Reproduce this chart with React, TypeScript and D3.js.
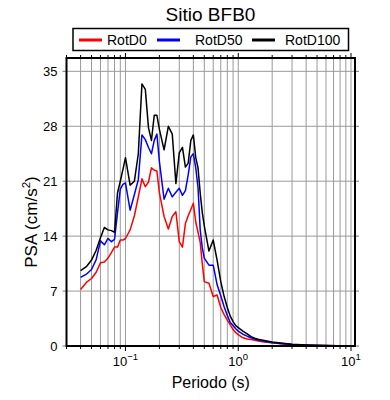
import * as d3 from "d3";
import React, { useRef, useEffect } from "react";

// periods (s)
const periods = [
  0.04, 0.045, 0.05, 0.055, 0.06, 0.065, 0.07, 0.075, 0.08, 0.085, 0.09, 0.095,
  0.1, 0.11, 0.12, 0.13, 0.14, 0.15, 0.16, 0.17, 0.18, 0.19, 0.2, 0.22, 0.24,
  0.26, 0.28, 0.3, 0.32, 0.34, 0.36, 0.38, 0.4, 0.42, 0.44, 0.46, 0.48, 0.5,
  0.55, 0.6, 0.65, 0.7, 0.75, 0.8, 0.85, 0.9, 0.95, 1.0, 1.1, 1.2, 1.3, 1.4,
  1.5, 1.7, 2.0, 2.5, 3.0, 4.0, 5.0, 7.5, 10,
];

const rotD0 = [
  7.2, 8.1, 8.6, 9.4, 10.6, 10.7, 11.2, 11.9, 12.6, 12.6, 13.5, 13.5,
  13.7, 14.8, 16.6, 19.0, 21.3, 20.3, 20.9, 22.7, 22.4, 22.3, 19.5, 16.5, 14.9,
  16.5, 17.1, 13.3, 12.6, 15.6, 16.6, 17.4, 18.2, 15.8, 14.5, 13.2, 10.5, 8.2,
  8.0, 6.3, 6.5, 4.9, 4.0, 3.3, 2.7, 2.1, 1.7, 1.45, 1.05, 0.9, 0.82, 0.72,
  0.65, 0.52, 0.4, 0.25, 0.16, 0.09, 0.05, 0.03, 0.02,
];

const rotD50 = [
  8.75, 9.15, 9.75, 11.0, 13.4, 12.9, 13.7, 13.3, 13.6, 17.0, 20.0, 20.6,
  20.8, 17.3, 19.3, 21.2, 26.9, 26.3, 25.3, 24.5, 26.2, 27.0, 23.5, 18.7, 20.1,
  19.0, 19.6, 20.1, 19.2, 19.8, 21.8, 24.1, 24.5, 22.7, 20.2, 14.8, 12.5, 11.2,
  10.3, 10.3, 7.8, 6.4, 5.0, 3.9, 3.0, 2.6, 2.2, 1.9, 1.5, 1.25, 1.05, 0.88,
  0.75, 0.6, 0.42, 0.28, 0.18, 0.1, 0.06, 0.03, 0.02,
];

const rotD100 = [
  9.6, 10.1, 10.95, 12.2, 13.8, 15.1, 14.8, 14.7, 14.5, 19.5, 21.0, 22.5,
  24.0, 20.5, 21.0, 24.5, 33.4, 32.7, 27.8, 26.2, 29.4, 29.4, 27.6, 25.0, 28.0,
  27.0, 20.7, 24.6, 25.3, 22.8, 23.3, 26.2, 26.9, 24.0, 22.7, 19.5, 17.0, 15.3,
  12.1, 13.5, 10.9, 8.2, 6.3, 4.9, 3.8, 3.1, 2.6, 2.35, 1.9, 1.55, 1.2, 1.0,
  0.85, 0.7, 0.5, 0.35, 0.22, 0.13, 0.08, 0.04, 0.02,
];

const seriesNames = ["RotD0", "RotD50", "RotD100"];
const seriesColors = ["#ff0000", "#0000ff", "#000000"];
const yTicks = [0, 7, 14, 21, 28, 35];
const xMajor = [0.1, 1, 10];
const xMajorExp = ["\u22121", "0", "1"];

const width = 390;
const height = 400;
const font = "'Liberation Sans', Arial, Helvetica, sans-serif";

function App() {
  const ref = useRef(null);

  useEffect(() => {
    draw();
  }, []);

  const draw = () => {
    const svg = d3.select(ref.current);
    svg.selectAll("*").remove();

    const left = 66.5;
    const right = 355;
    const top = 58;
    const bottom = 346;

    const x = d3.scaleLog().domain([0.03, 10.85]).range([left, right]);
    const y = d3.scaleLinear().domain([0, 36.7]).range([bottom, top]);

    svg.append("rect").attr("width", width).attr("height", height).attr("fill", "#fff");

    // grid
    const minor = x.ticks();
    const grid = svg.append("g").attr("stroke", "#9a9a9a").attr("stroke-width", 1);
    minor.forEach((t) => {
      grid.append("line")
        .attr("x1", x(t)).attr("x2", x(t))
        .attr("y1", top).attr("y2", bottom);
    });
    yTicks.forEach((t) => {
      grid.append("line")
        .attr("x1", left).attr("x2", right)
        .attr("y1", y(t)).attr("y2", y(t));
    });

    // tick marks
    const ticks = svg.append("g").attr("stroke", "#000").attr("stroke-width", 1);
    minor.forEach((t) => {
      const len = xMajor.some((m) => Math.abs(m - t) < 1e-9) ? 5 : 3;
      ticks.append("line")
        .attr("x1", x(t)).attr("x2", x(t))
        .attr("y1", top).attr("y2", top - len);
      ticks.append("line")
        .attr("x1", x(t)).attr("x2", x(t))
        .attr("y1", bottom).attr("y2", bottom + len);
    });
    yTicks.forEach((t) => {
      ticks.append("line")
        .attr("x1", left - 4).attr("x2", left)
        .attr("y1", y(t)).attr("y2", y(t))
        .attr("stroke", "#777");
      ticks.append("line")
        .attr("x1", right).attr("x2", right + 4)
        .attr("y1", y(t)).attr("y2", y(t))
        .attr("stroke", "#777");
    });

    // curves
    const line = d3
      .line<number>()
      .x((d, i) => x(periods[i]))
      .y((d) => y(d));

    [rotD0, rotD50, rotD100].forEach((vals, k) => {
      svg.append("path")
        .datum(vals)
        .attr("d", line)
        .attr("fill", "none")
        .attr("stroke", seriesColors[k])
        .attr("stroke-width", 1.5)
        .attr("stroke-linejoin", "round");
    });

    // frame
    svg.append("rect")
      .attr("x", left).attr("y", top)
      .attr("width", right - left).attr("height", bottom - top)
      .attr("fill", "none")
      .attr("stroke", "#000")
      .attr("stroke-width", 2);

    // y tick labels
    yTicks.forEach((t) => {
      svg.append("text")
        .attr("x", left - 9)
        .attr("y", y(t))
        .attr("dy", "0.36em")
        .attr("text-anchor", "end")
        .attr("font-family", font)
        .attr("font-size", 13)
        .text(t);
    });

    // x tick labels
    xMajor.forEach((t, i) => {
      const tx = svg.append("text")
        .attr("x", x(t))
        .attr("y", 366)
        .attr("text-anchor", "middle")
        .attr("font-family", font)
        .attr("font-size", 13);
      tx.append("tspan").text("10");
      tx.append("tspan")
        .attr("dy", -6)
        .attr("font-size", 9.5)
        .text(xMajorExp[i]);
    });

    // axis titles
    svg.append("text")
      .attr("x", (left + right) / 2)
      .attr("y", 388)
      .attr("text-anchor", "middle")
      .attr("font-family", font)
      .attr("font-size", 16)
      .text("Periodo (s)");

    const yt = svg.append("text")
      .attr("transform", `translate(37,${(top + bottom) / 2 + 20}) rotate(-90)`)
      .attr("text-anchor", "middle")
      .attr("font-family", font)
      .attr("font-size", 17);
    yt.append("tspan").text("PSA (cm/s");
    yt.append("tspan").attr("dy", -7).attr("font-size", 11.5).text("2");
    yt.append("tspan").attr("dy", 7).text(")");

    // title
    svg.append("text")
      .attr("x", 210.5)
      .attr("y", 21)
      .attr("text-anchor", "middle")
      .attr("font-family", font)
      .attr("font-size", 19)
      .text("Sitio BFB0");

    // legend
    const lg = svg.append("g");
    lg.append("rect")
      .attr("x", 73).attr("y", 28.5)
      .attr("width", 275.5).attr("height", 22)
      .attr("fill", "#fff")
      .attr("stroke", "#000")
      .attr("stroke-width", 1.5);
    const lineStart = [79, 157, 252];
    const textStart = [107, 195, 285];
    seriesNames.forEach((name, k) => {
      lg.append("line")
        .attr("x1", lineStart[k]).attr("x2", lineStart[k] + 23)
        .attr("y1", 40).attr("y2", 40)
        .attr("stroke", seriesColors[k])
        .attr("stroke-width", 3);
      lg.append("text")
        .attr("x", textStart[k])
        .attr("y", 45)
        .attr("font-family", font)
        .attr("font-size", 14)
        .text(name);
    });
  };

  return (
    <svg
      ref={ref}
      width={width}
      height={height}
      style={{ position: "absolute", left: 0, top: 0, display: "block" }}
    ></svg>
  );
}

export default App;
